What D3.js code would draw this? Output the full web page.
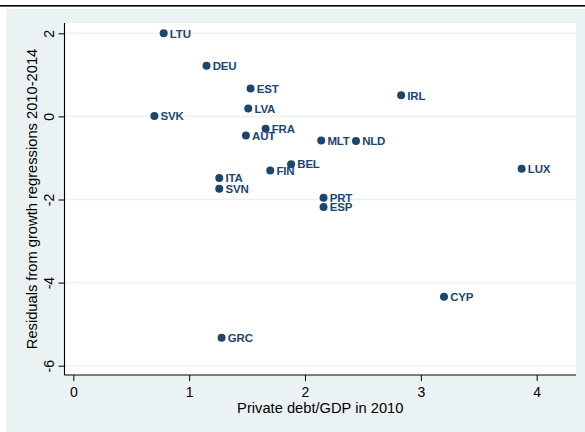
<!DOCTYPE html>
<html>
<head>
<meta charset="utf-8">
<script src="https://cdn.jsdelivr.net/npm/d3@7"></script>
<style>
  html, body { margin: 0; padding: 0; background: #ffffff; }
  svg { display: block; }
  text { font-family: "Liberation Sans", Arial, sans-serif; }
</style>
</head>
<body>
<svg id="chart" width="585" height="432"></svg>
<script>
// ---- data ----
const countries = ["LTU","DEU","EST","SVK","LVA","FRA","AUT","FIN","BEL","ITA","SVN","IRL","MLT","NLD","LUX","PRT","ESP","CYP","GRC"];
const privateDebt = [0.78, 1.15, 1.53, 0.70, 1.51, 1.66, 1.49, 1.70, 1.88, 1.26, 1.26, 2.83, 2.14, 2.44, 3.87, 2.16, 2.16, 3.20, 1.28];
const residuals  = [2.00, 1.22, 0.67, 0.01, 0.19, -0.30, -0.46, -1.30, -1.15, -1.48, -1.74, 0.51, -0.58, -0.59, -1.26, -1.96, -2.18, -4.34, -5.33];
const xTicks = [0, 1, 2, 3, 4];
const yTicks = [2, 0, -2, -4, -6];
const xTitle = "Private debt/GDP in 2010";
const yTitle = "Residuals from growth regressions 2010-2014";

const navy = "#1a476f";
const bg = "#eaf2f3";

const svg = d3.select("#chart");

// top rule
svg.append("rect").attr("x", 0).attr("y", 5).attr("width", 585).attr("height", 1.6).attr("fill", "#000");
// outer background
svg.append("rect").attr("x", 6).attr("y", 9).attr("width", 579).attr("height", 423).attr("fill", bg);

const plot = { left: 64.5, right: 576, top: 23, bottom: 375 };
svg.append("rect")
  .attr("x", plot.left).attr("y", plot.top)
  .attr("width", plot.right - plot.left).attr("height", plot.bottom - plot.top)
  .attr("fill", "#ffffff");

const x = d3.scaleLinear().domain([0, 4]).range([73.3, 536.7]);
const y = d3.scaleLinear().domain([2, -6]).range([33.3, 365.7]);
const fmt = d => d3.format("d")(d).replace("\u2212", "-");

// gridlines
svg.append("g").selectAll("line").data(yTicks).join("line")
  .attr("x1", plot.left).attr("x2", plot.right)
  .attr("y1", d => y(d)).attr("y2", d => y(d))
  .attr("stroke", bg).attr("stroke-width", 1.6);

// y axis
const yAxis = svg.append("g")
  .attr("transform", `translate(${plot.left},0)`)
  .call(d3.axisLeft(y).tickValues(yTicks).tickSize(6).tickPadding(0).tickFormat(fmt));
yAxis.select(".domain").attr("d", `M0,${plot.top}V${plot.bottom}`).attr("stroke", "#000").attr("stroke-width", 1.1);
yAxis.selectAll(".tick line").attr("stroke", "#000");
yAxis.selectAll(".tick text")
  .attr("x", null).attr("dy", null)
  .attr("transform", "translate(-10.5,0) rotate(-90)")
  .attr("text-anchor", "middle")
  .attr("font-size", 14).attr("fill", "#000")
  .attr("font-family", "Liberation Sans, Arial, sans-serif");

// x axis
const xAxis = svg.append("g")
  .attr("transform", `translate(0,${plot.bottom})`)
  .call(d3.axisBottom(x).tickValues(xTicks).tickSize(6).tickPadding(6).tickFormat(fmt));
xAxis.select(".domain").attr("d", `M${plot.left},0H${plot.right}`).attr("stroke", "#000").attr("stroke-width", 1.1);
xAxis.selectAll(".tick line").attr("stroke", "#000");
xAxis.selectAll(".tick text")
  .attr("font-size", 14).attr("fill", "#000")
  .attr("font-family", "Liberation Sans, Arial, sans-serif");

// axis titles
svg.append("text")
  .attr("x", (plot.left + plot.right) / 2).attr("y", 412.5)
  .attr("text-anchor", "middle").attr("font-size", 14.7).attr("fill", "#000")
  .text(xTitle);
svg.append("text")
  .attr("transform", `translate(36.5,${(plot.top + plot.bottom) / 2}) rotate(-90)`)
  .attr("text-anchor", "middle").attr("font-size", 14.7).attr("fill", "#000")
  .text(yTitle);

// points
const data = countries.map((c, i) => ({ c, x: privateDebt[i], y: residuals[i] }));
const pts = svg.append("g");
pts.selectAll("circle").data(data).join("circle")
  .attr("cx", d => x(d.x)).attr("cy", d => y(d.y))
  .attr("r", 4).attr("fill", navy);
pts.selectAll("text").data(data).join("text")
  .attr("x", d => x(d.x) + 6.2).attr("y", d => y(d.y) + 4.3)
  .attr("font-size", 11.5).attr("font-weight", "bold").attr("fill", navy)
  .attr("letter-spacing", -0.2)
  .text(d => d.c);
</script>
</body>
</html>
